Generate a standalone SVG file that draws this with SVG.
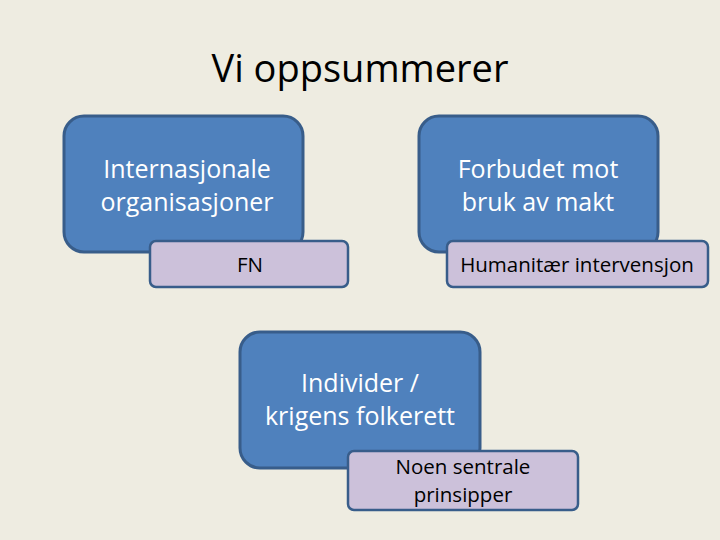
<svg xmlns="http://www.w3.org/2000/svg" width="720" height="540" viewBox="0 0 720 540">
<style>
.main{fill:#4f81bd;stroke:#385d8a;stroke-width:3}
.sub{fill:#ccc1da;stroke:#385d8a;stroke-width:2.5}
.mt{font-family:"Open Sans","Liberation Sans",sans-serif;font-size:25px;fill:#ffffff;text-anchor:middle}
.st{font-family:"Open Sans","Liberation Sans",sans-serif;font-size:20.5px;fill:#000000;text-anchor:middle}
.title{font-family:"Open Sans","Liberation Sans",sans-serif;font-size:38px;fill:#000000;text-anchor:middle}
</style>
<rect x="0" y="0" width="720" height="540" fill="#eeece1"/>
<text class="title" x="360" y="82">Vi oppsummerer</text>
<g id="n1">
<rect class="main" x="64" y="116" width="239" height="136" rx="20"/>
<text class="mt" x="187" y="178">Internasjonale</text>
<text class="mt" x="187" y="211">organisasjoner</text>
</g>
<g id="n1b">
<rect class="sub" x="150" y="241" width="198" height="46" rx="6"/>
<text class="st" x="250" y="272">FN</text>
</g>
<g id="n2">
<rect class="main" x="419" y="116" width="239" height="136" rx="20"/>
<text class="mt" x="538" y="178">Forbudet mot</text>
<text class="mt" x="538" y="211">bruk av makt</text>
</g>
<g id="n2b">
<rect class="sub" x="447" y="241" width="261" height="46" rx="6"/>
<text class="st" x="577" y="272">Humanitær intervensjon</text>
</g>
<g id="n3">
<rect class="main" x="240" y="332" width="240" height="136" rx="20"/>
<text class="mt" x="360" y="392">Individer /</text>
<text class="mt" x="360" y="425">krigens folkerett</text>
</g>
<g id="n3b">
<rect class="sub" x="348" y="451" width="230" height="59" rx="6"/>
<text class="st" x="463" y="474">Noen sentrale</text>
<text class="st" x="463" y="502">prinsipper</text>
</g>
<g id="connectors"></g>
</svg>
